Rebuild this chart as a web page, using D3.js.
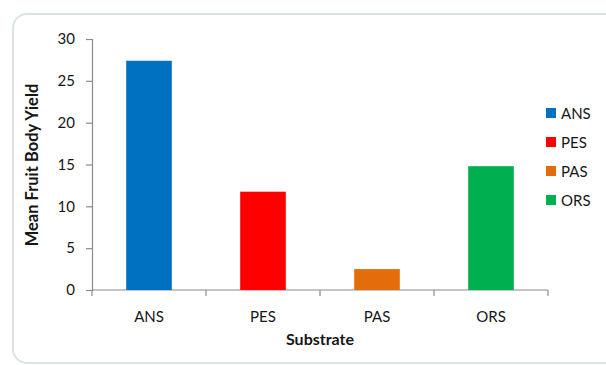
<!doctype html>
<html>
<head>
    <meta charset="utf-8">
    <title>Mean Fruit Body Yield</title>
    <script src="https://cdn.jsdelivr.net/npm/d3@7"></script>
    <style>
        body { margin: 0; background: #fff; }
        text { font-family: Lato, "Open Sans", sans-serif; fill: #161616; }
    </style>
</head>
<body>
<script>
    var substrates = ["ANS", "PES", "PAS", "ORS"];
    var yieldValues = [27.4, 11.75, 2.5, 14.8];
    var barColors = ["#0070C0", "#FF0000", "#E46C0A", "#00B050"];
    var yTicks = [0, 5, 10, 15, 20, 25, 30];

    var svg = d3.select("body").append("svg").attr("width", 606).attr("height", 365);

    // chart frame
    svg.append("rect")
        .attr("x", 13).attr("y", 14)
        .attr("width", 640).attr("height", 349)
        .attr("rx", 14)
        .attr("fill", "#fff")
        .attr("stroke", "#dbe3e3")
        .attr("stroke-width", 2);

    var x = d3.scaleBand().domain(substrates).range([92, 548]).paddingInner(0.6).paddingOuter(0.3);
    var y = d3.scaleLinear().domain([0, 30]).range([290, 39]);

    var yAxis = svg.append("g")
        .attr("transform", "translate(92,0)")
        .call(d3.axisLeft(y).tickValues(yTicks).tickSize(6).tickPadding(11));
    yAxis.selectAll("text").style("font-size", "15px");

    var xAxis = svg.append("g")
        .attr("transform", "translate(0,290)")
        .call(d3.axisBottom(x).tickSize(0).tickPadding(21));
    xAxis.selectAll("text").style("font-size", "15px");

    // category boundary ticks
    var bounds = [92].concat(substrates.map(function (d) { return x(d) + x.bandwidth() + x.step() * x.paddingInner() / 2; }));
    bounds[bounds.length - 1] = 548;
    xAxis.selectAll("line.bound")
        .data(bounds)
        .enter()
        .append("line")
        .attr("class", "bound")
        .attr("x1", function (d) { return d; })
        .attr("x2", function (d) { return d; })
        .attr("y1", 0).attr("y2", 6);
    xAxis.select(".domain").attr("d", "M92,0H548");

    svg.selectAll(".domain, .tick line, line.bound").attr("stroke", "#8c8c8c").attr("stroke-width", 1.2);

    svg.selectAll("rect.bar")
        .data(yieldValues)
        .enter()
        .append("rect")
        .attr("class", "bar")
        .attr("x", function (d, i) { return x(substrates[i]); })
        .attr("y", function (d) { return y(d); })
        .attr("width", x.bandwidth())
        .attr("height", function (d) { return 290 - y(d); })
        .attr("fill", function (d, i) { return barColors[i]; });

    svg.append("text")
        .attr("x", 320).attr("y", 345)
        .attr("text-anchor", "middle")
        .style("font-size", "16px").style("font-weight", "bold")
        .text("Substrate");

    svg.append("text")
        .attr("transform", "translate(38,165) rotate(-90)")
        .attr("text-anchor", "middle")
        .style("font-size", "16.5px").style("font-weight", "bold")
        .text("Mean Fruit Body Yield");

    var legend = svg.selectAll("g.legend")
        .data(substrates)
        .enter()
        .append("g")
        .attr("class", "legend")
        .attr("transform", function (d, i) { return "translate(546," + (108 + i * 29) + ")"; });
    legend.append("rect")
        .attr("width", 10).attr("height", 10)
        .attr("fill", function (d, i) { return barColors[i]; });
    legend.append("text")
        .attr("x", 15).attr("y", 10.5)
        .style("font-size", "15px")
        .text(function (d) { return d; });
</script>
</body>
</html>
